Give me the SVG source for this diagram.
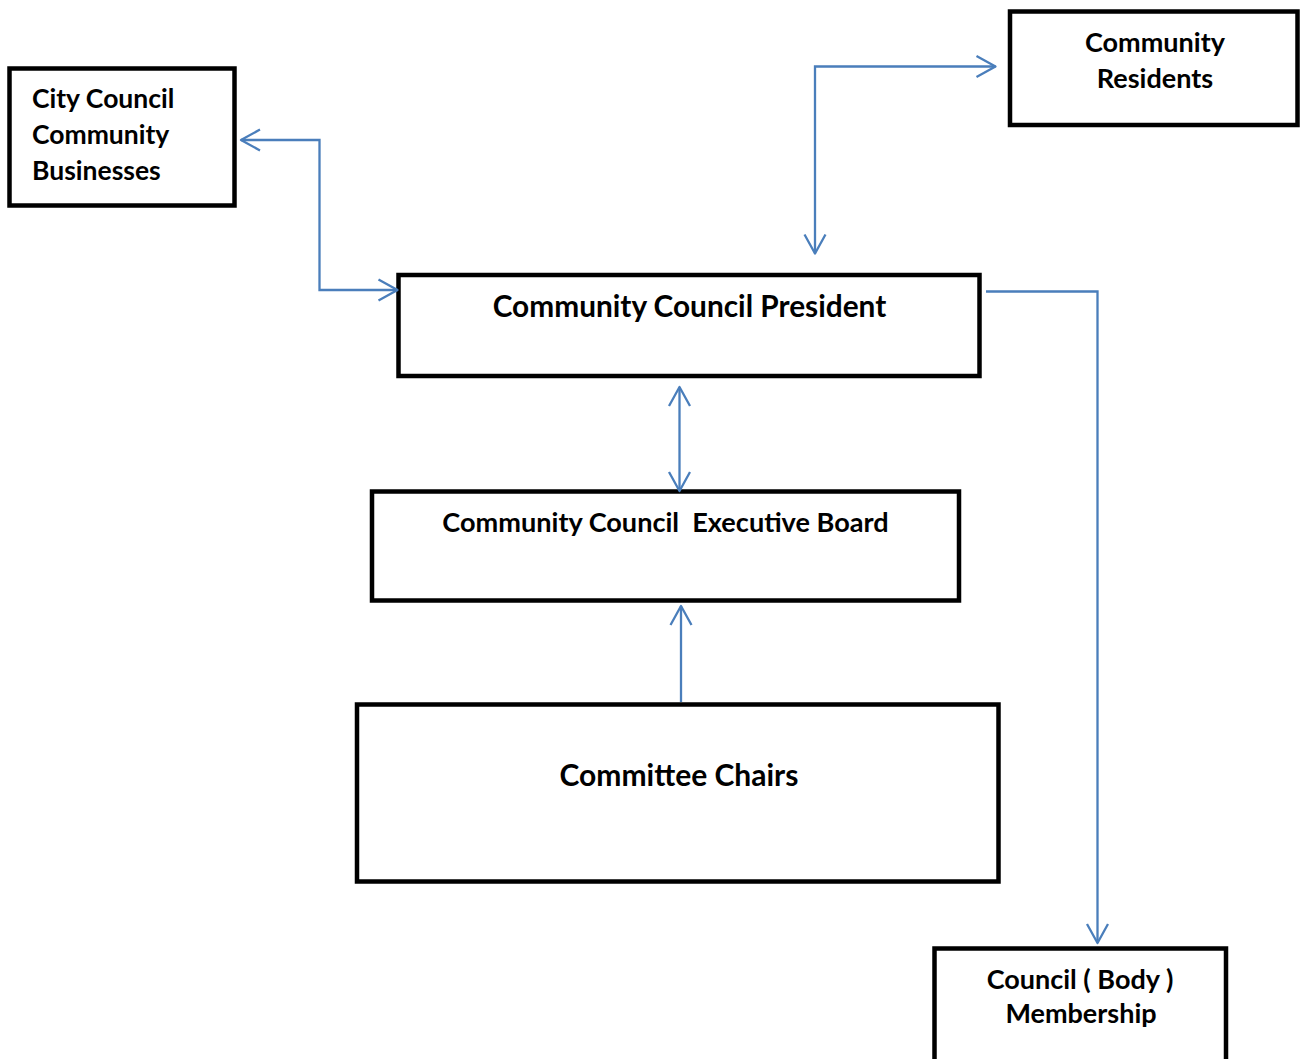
<svg xmlns="http://www.w3.org/2000/svg" width="1300" height="1059" viewBox="0 0 1300 1059">
  <style>
    .box { fill: #ffffff; stroke: #000000; stroke-width: 4.5; }
    .lbl { font-family: Lato, "Liberation Sans", sans-serif; font-weight: 700; fill: #000000; white-space: pre; }
    .mid { text-anchor: middle; }
    .link { fill: none; stroke: #4a7ebb; stroke-width: 2.3; }
  </style>
  <defs>
    <marker id="arrow" markerUnits="userSpaceOnUse" viewBox="-22 -13 24 26" refX="0" refY="0" markerWidth="24" markerHeight="26" orient="auto-start-reverse">
      <path d="M-19,-10.5 L0,0 L-19,10.5" fill="none" stroke="#4a7ebb" stroke-width="2.3" stroke-linejoin="round"/>
    </marker>
  </defs>
  <rect width="1300" height="1059" fill="#ffffff"/>

  <g id="city-council">
    <rect class="box" x="9.5" y="68.5" width="225" height="137"/>
    <text class="lbl" font-size="26.5" x="32" y="108">City Council</text>
    <text class="lbl" font-size="26.5" x="32" y="144">Community</text>
    <text class="lbl" font-size="26.5" x="32" y="180">Businesses</text>
  </g>

  <g id="community-residents">
    <rect class="box" x="1010" y="11.5" width="287.5" height="113.5"/>
    <text class="lbl mid" font-size="27" x="1155" y="52">Community</text>
    <text class="lbl mid" font-size="27" x="1155" y="88">Residents</text>
  </g>

  <g id="president">
    <rect class="box" x="398.5" y="275" width="581" height="101"/>
    <text class="lbl mid" font-size="29.8" x="689.5" y="317">Community Council President</text>
  </g>

  <g id="executive-board">
    <rect class="box" x="372" y="491.5" width="587" height="109"/>
    <text class="lbl mid" font-size="27.1" x="665.5" y="532">Community Council  Executive Board</text>
  </g>

  <g id="committee-chairs">
    <rect class="box" x="357" y="704.5" width="641.5" height="177"/>
    <text class="lbl mid" font-size="30" x="679" y="786">Committee Chairs</text>
  </g>

  <g id="council-membership">
    <rect class="box" x="934.5" y="948.5" width="291.5" height="200"/>
    <text class="lbl mid" font-size="27" x="1080" y="989">Council ( Body )</text>
    <text class="lbl mid" font-size="27" x="1081" y="1023">Membership</text>
  </g>

  <g id="connectors">
    <path class="link" d="M241,140 H319.5 V290 H397.5" marker-start="url(#arrow)" marker-end="url(#arrow)"/>
    <path class="link" d="M815,253.5 V66.5 H995.5" marker-start="url(#arrow)" marker-end="url(#arrow)"/>
    <path class="link" d="M679.5,387 V491" marker-start="url(#arrow)" marker-end="url(#arrow)"/>
    <path class="link" d="M681,702 V606" marker-end="url(#arrow)"/>
    <path class="link" d="M986,291.5 H1097.5 V943" marker-end="url(#arrow)"/>
  </g>
</svg>
